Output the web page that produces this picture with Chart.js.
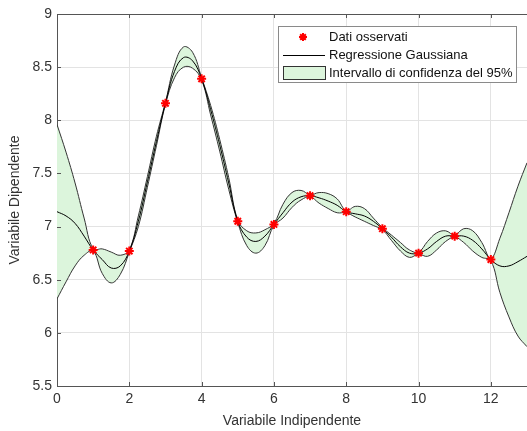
<!DOCTYPE html>
<html>
<head>
<meta charset="utf-8">
<script src="https://cdn.jsdelivr.net/npm/chart.js@4.4.1/dist/chart.umd.min.js"></script>
<style>
  html, body { margin: 0; padding: 0; background: #fff; overflow: hidden; }
</style>
</head>
<body>
<canvas id="grafico" width="527" height="431"></canvas>
<script>
// griglia x della regressione (passo 0.25)
const xGriglia = [0, 0.25, 0.5, 0.75, 1, 1.25, 1.5, 1.75, 2, 2.25, 2.5, 2.75, 3, 3.25, 3.5, 3.75,
  4, 4.25, 4.5, 4.75, 5, 5.25, 5.5, 5.75, 6, 6.25, 6.5, 6.75, 7, 7.25, 7.5, 7.75,
  8, 8.25, 8.5, 8.75, 9, 9.25, 9.5, 9.75, 10, 10.25, 10.5, 10.75, 11, 11.25, 11.5, 11.75,
  12, 12.25, 12.5, 12.75, 13];

// media della regressione gaussiana
const media = [7.14, 7.10, 7.03, 6.91, 6.78, 6.69, 6.61, 6.63, 6.77, 7.05, 7.42, 7.80, 8.16, 8.46, 8.59, 8.56,
  8.39, 8.10, 7.77, 7.41, 7.05, 6.90, 6.86, 6.91, 7.02, 7.13, 7.23, 7.28, 7.29, 7.27, 7.24, 7.20,
  7.14, 7.12, 7.10, 7.05, 6.98, 6.90, 6.81, 6.75, 6.75, 6.79, 6.86, 6.91, 6.91, 6.91, 6.87, 6.79,
  6.69, 6.63, 6.63, 6.67, 6.72];

// limiti dell'intervallo di confidenza al 95%
const limSup = [7.96, 7.70, 7.41, 7.08, 6.79, 6.79, 6.76, 6.73, 6.78, 7.10, 7.47, 7.85, 8.17, 8.52, 8.69, 8.64,
  8.40, 8.14, 7.82, 7.46, 7.06, 6.96, 6.94, 6.97, 7.03, 7.21, 7.32, 7.34, 7.30, 7.32, 7.31, 7.26,
  7.15, 7.19, 7.17, 7.08, 6.99, 6.92, 6.85, 6.78, 6.76, 6.86, 6.94, 6.96, 6.92, 6.98, 6.96, 6.85,
  6.70, 6.89, 7.13, 7.38, 7.60];
const limInf = [6.32, 6.48, 6.63, 6.73, 6.77, 6.56, 6.47, 6.55, 6.76, 7.00, 7.37, 7.76, 8.15, 8.40, 8.50, 8.49,
  8.38, 8.05, 7.71, 7.35, 7.04, 6.82, 6.75, 6.82, 7.01, 7.08, 7.18, 7.25, 7.28, 7.22, 7.17, 7.13,
  7.13, 7.09, 7.05, 7.01, 6.97, 6.87, 6.77, 6.71, 6.74, 6.72, 6.78, 6.86, 6.90, 6.85, 6.77, 6.71,
  6.68, 6.38, 6.15, 5.97, 5.87];

// dati osservati
const xOss = [1, 2, 3, 4, 5, 6, 7, 8, 9, 10, 11, 12];
const yOss = [6.78, 6.77, 8.16, 8.39, 7.05, 7.02, 7.29, 7.14, 6.98, 6.75, 6.91, 6.69];

const xTicks = [0, 2, 4, 6, 8, 10, 12];
const yTicks = [5.5, 6, 6.5, 7, 7.5, 8, 8.5, 9];
const etichette = ["Dati osservati", "Regressione Gaussiana", "Intervallo di confidenza del 95%"];

const verdeBanda = '#dcf5dc';
const font = "'Liberation Sans', Arial, sans-serif";

function punti(xs, ys) {
  return xs.map((x, i) => ({ x: x, y: ys[i] }));
}

function asterisco(ctx, x, y, r) {
  ctx.beginPath();
  for (let k = 0; k < 4; k++) {
    const a = k * Math.PI / 4;
    ctx.moveTo(x - r * Math.cos(a), y - r * Math.sin(a));
    ctx.lineTo(x + r * Math.cos(a), y + r * Math.sin(a));
  }
  ctx.stroke();
}

// riquadro, tacche interne e legenda stile MATLAB
const cornice = {
  id: 'cornice',
  afterDraw(chart) {
    const { ctx, chartArea: a, scales } = chart;
    const sx = scales.x, sy = scales.y;
    ctx.save();
    ctx.strokeStyle = '#555';
    ctx.lineWidth = 1;
    ctx.beginPath();
    ctx.moveTo(a.left, a.top + 0.5);
    ctx.lineTo(a.right, a.top + 0.5);
    xTicks.forEach(v => {
      const px = Math.round(sx.getPixelForValue(v)) + 0.5;
      ctx.moveTo(px, a.bottom); ctx.lineTo(px, a.bottom - 4);
      ctx.moveTo(px, a.top); ctx.lineTo(px, a.top + 4);
    });
    yTicks.forEach(v => {
      const py = Math.round(sy.getPixelForValue(v)) + 0.5;
      ctx.moveTo(a.left, py); ctx.lineTo(a.left + 4, py);
    });
    ctx.stroke();

    // legenda
    const lx = 278.5, ly = 26.5, lw = 238, lh = 56;
    ctx.fillStyle = '#fff';
    ctx.fillRect(lx, ly, lw, lh);
    ctx.strokeStyle = '#8a8a8a';
    ctx.strokeRect(lx, ly, lw, lh);

    ctx.strokeStyle = 'red';
    ctx.lineWidth = 2;
    asterisco(ctx, 303, 37, 4);

    ctx.strokeStyle = '#000';
    ctx.lineWidth = 1;
    ctx.beginPath();
    ctx.moveTo(283, 55.5); ctx.lineTo(325, 55.5);
    ctx.stroke();

    ctx.fillStyle = verdeBanda;
    ctx.fillRect(283.5, 66.5, 42, 13);
    ctx.strokeStyle = '#333';
    ctx.strokeRect(283.5, 66.5, 42, 13);

    ctx.fillStyle = '#111';
    ctx.font = '13px ' + font;
    ctx.textBaseline = 'middle';
    ctx.textAlign = 'left';
    etichette.forEach((t, i) => ctx.fillText(t, 329, 37.5 + i * 18));
    ctx.restore();
  }
};

new Chart(document.getElementById('grafico'), {
  type: 'line',
  data: {
    datasets: [
      {
        label: etichette[0],
        data: punti(xOss, yOss),
        showLine: false,
        pointStyle: 'star',
        pointRadius: 4.5,
        pointBorderWidth: 2,
        borderColor: 'red',
        backgroundColor: 'red',
        order: 0
      },
      {
        label: etichette[1],
        data: punti(xGriglia, media),
        borderColor: '#000',
        borderWidth: 1,
        pointRadius: 0,
        tension: 0.4,
        fill: false,
        order: 1
      },
      {
        label: 'sup',
        data: punti(xGriglia, limSup),
        borderColor: '#333',
        borderWidth: 1,
        pointRadius: 0,
        tension: 0.4,
        fill: '+1',
        backgroundColor: verdeBanda,
        order: 2
      },
      {
        label: 'inf',
        data: punti(xGriglia, limInf),
        borderColor: '#333',
        borderWidth: 1,
        pointRadius: 0,
        tension: 0.4,
        fill: false,
        order: 3
      }
    ]
  },
  options: {
    responsive: false,
    animation: false,
    layout: { autoPadding: false, padding: { top: 14, right: 0, bottom: 0, left: 0 } },
    plugins: {
      legend: { display: false },
      tooltip: { enabled: false },
      filler: { drawTime: 'beforeDatasetsDraw' }
    },
    scales: {
      x: {
        type: 'linear',
        min: 0,
        max: 13,
        afterBuildTicks: s => { s.ticks = xTicks.map(v => ({ value: v })); },
        afterFit: s => { s.height = 45; s.paddingLeft = 0; s.paddingRight = 0; },
        grid: { color: '#e3e3e3', drawTicks: false },
        border: { display: true, color: '#555' },
        ticks: { padding: 5, color: '#333', font: { family: font, size: 14 }, callback: v => String(v) },
        title: {
          display: true,
          text: 'Variabile Indipendente',
          color: '#333',
          padding: { top: 0, bottom: 1 },
          font: { family: font, size: 14 }
        }
      },
      y: {
        min: 5.5,
        max: 9,
        afterBuildTicks: s => { s.ticks = yTicks.map(v => ({ value: v })); },
        afterFit: s => { s.width = 57; s.paddingTop = 0; s.paddingBottom = 0; },
        grid: { color: '#e3e3e3', drawTicks: false },
        border: { display: true, color: '#555' },
        ticks: { padding: 5, color: '#333', font: { family: font, size: 14 }, callback: v => String(v) },
        title: {
          display: true,
          text: 'Variabile Dipendente',
          color: '#333',
          padding: { top: 7, bottom: 0 },
          font: { family: font, size: 14 }
        }
      }
    }
  },
  plugins: [cornice]
});
</script>
</body>
</html>
